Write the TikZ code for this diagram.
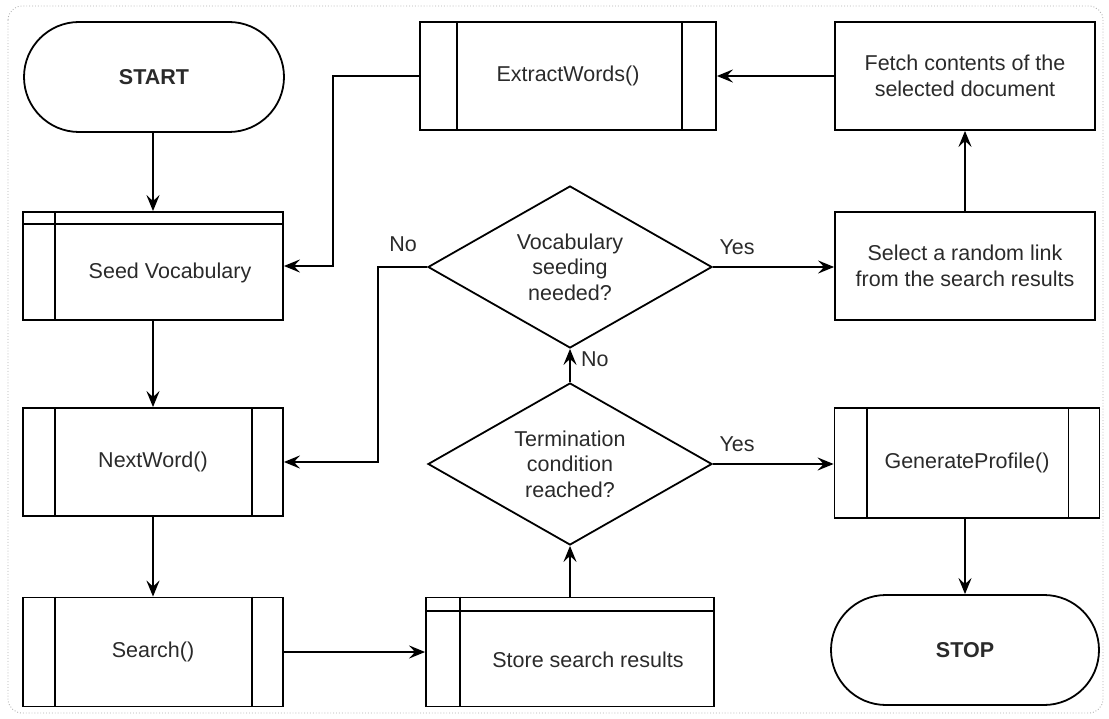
\documentclass[tikz,border=0pt]{standalone}
\usepackage{fontspec}
\setmainfont{Liberation Sans}
\usetikzlibrary{shapes.misc,shapes.geometric,arrows.meta}
\definecolor{txt}{HTML}{2A2A2A}
\definecolor{frame}{HTML}{B0B0B0}
\begin{document}
\begin{tikzpicture}[x=1pt,y=-1pt,
  font=\fontsize{21.5}{25.5}\selectfont,
  box/.style={draw, line width=1.8pt, minimum width=260pt, minimum height=108pt, inner sep=0pt, align=center, text=txt},
  term/.style={draw, line width=1.8pt, rounded rectangle, minimum width=260pt, minimum height=110pt, inner sep=0pt, text=txt, font=\fontsize{21.5}{25.5}\selectfont\bfseries},
  dec/.style={draw, diamond, aspect=1.75, line width=1.8pt, minimum width=284pt, minimum height=162pt, inner sep=0pt, align=center, text=txt},
  txtnode/.style={inner sep=0pt, align=center, text=txt},
  flow/.style={line width=2.3pt, -{Stealth[length=16pt,width=13pt,inset=6pt]}},
  sub/.style={line width=1.8pt}
]
\useasboundingbox (0,0) rectangle (1109,719);
\draw[frame, dotted, line width=0.9pt, rounded corners=14pt] (8,6) rectangle (1103,713);

% nodes
\node[term] (start) at (154,77) {START};
\node[box] (sv) at (153,266) {};
\node[txtnode] (svt) at (170,273) {Seed Vocabulary};
\node[box] (nw) at (153,462) {NextWord()};
\node[box, minimum height=109pt] (se) at (153,652) {Search()};
\node[box, minimum width=288pt, minimum height=109pt] (ssr) at (570,652) {};
\node[txtnode] (ssrt) at (588,660) {Store search results};
\node[box, minimum width=296pt] (ext) at (568,76) {ExtractWords()};
\node[box] (fetch) at (965,76) {Fetch contents of the\\selected document};
\node[box] (sel) at (965,266) {Select a random link\\from the search results};
\node[box, minimum width=265pt, minimum height=110pt] (gen) at (967,463) {GenerateProfile()};
\node[term, minimum width=268pt] (stop) at (965,650) {STOP};
\node[dec] (d1) at (570,267) {Vocabulary\\seeding\\needed?};
\node[dec] (d2) at (570,464) {Termination\\condition\\reached?};

% inner lines of subprocess boxes
\draw[sub] ([yshift=-13pt]sv.north west) -- ([yshift=-13pt]sv.north east);
\draw[sub] ([xshift=33pt]sv.north west) -- ([xshift=33pt]sv.south west);
\draw[sub] ([yshift=-14pt]ssr.north west) -- ([yshift=-14pt]ssr.north east);
\draw[sub] ([xshift=35pt]ssr.north west) -- ([xshift=35pt]ssr.south west);
\foreach \n in {nw,se}{
  \draw[sub] ([xshift=33pt]\n.north west) -- ([xshift=33pt]\n.south west);
  \draw[sub] ([xshift=-32pt]\n.north east) -- ([xshift=-32pt]\n.south east);
}
\draw[sub] ([xshift=38pt]ext.north west) -- ([xshift=38pt]ext.south west);
\draw[sub] ([xshift=-35pt]ext.north east) -- ([xshift=-35pt]ext.south east);
\draw[sub] ([xshift=33pt]gen.north west) -- ([xshift=33pt]gen.south west);
\draw[sub] ([xshift=-32pt]gen.north east) -- ([xshift=-32pt]gen.south east);

% connectors
\draw[flow] (start.south -| sv.north) -- (sv.north);
\draw[flow] (sv) -- (nw);
\draw[flow] (nw) -- (se);
\draw[flow] (se.east) -- (se.east -| ssr.west);
\draw[flow] (d2.south |- ssr.north) -- (d2.south);
\draw[flow] (d2.north) -- node[txtnode, right=10pt, pos=0.7] (no2) {No} (d1.south);
\draw[flow] (d2.east) -- node[txtnode, above=11pt, pos=0.2] (yes2) {Yes} (d2.east -| gen.west);
\draw[flow] (d1.east) -- node[txtnode, above=11pt, pos=0.2] (yes1) {Yes} (d1.east -| sel.west);
\draw[flow] (d1.west) -- (378,267) |- (nw.east);
\node[txtnode] (no1) at (403,244) {No};
\draw[flow] (sel.north) -- (fetch.south);
\draw[flow] (fetch.west) -- (fetch.west -| ext.east);
\draw[flow] (ext.west) -- (333,76) |- (sv.east);
\draw[flow] (gen.south -| stop.north) -- (stop.north);
\end{tikzpicture}
\end{document}
